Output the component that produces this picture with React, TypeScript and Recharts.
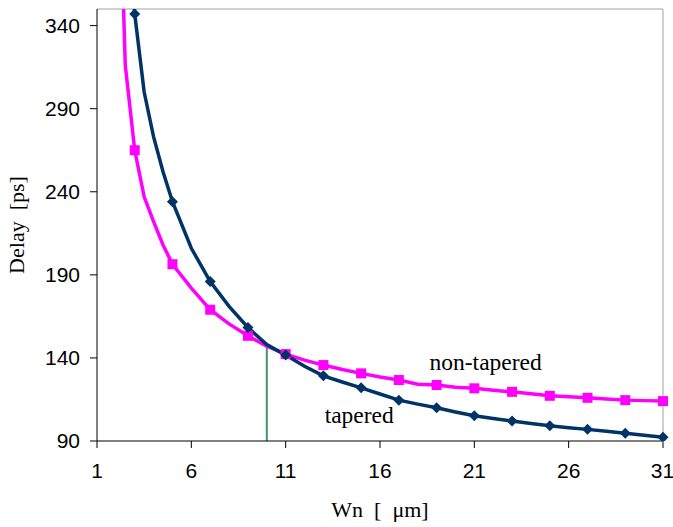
import React from 'react';
import { LineChart, Line, XAxis, YAxis, ReferenceLine, ReferenceDot } from 'recharts';

// Wn [um] sample points (denser in the steep part)
const wn = [2, 2.5, 3, 3.5, 4, 4.5, 5, 6, 7, 8, 9, 10, 11, 12, 13, 14, 15, 16, 17, 18, 19, 20, 21, 22, 23, 24, 25, 26, 27, 28, 29, 30, 31];
const tapered = [null, 430, 347, 300, 273, 252, 234, 206, 186, 171, 158.3, 148, 141.7, 135, 129.2, 125.5, 122, 118.3, 114.6, 112.2, 110, 107.5, 105.2, 103.5, 102, 100.5, 99.2, 98, 97, 95.8, 94.6, 93.4, 92.2];
const nonTapered = [500, 316, 265, 237, 222, 208, 196.4, 182, 169, 160.5, 153.3, 147, 142.3, 138.7, 135.7, 133, 130.7, 128.5, 126.7, 124.2, 123.7, 122.3, 121.7, 120.6, 119.6, 118.4, 117.2, 116.6, 116, 115.3, 114.6, 114.3, 114];

const xTicks = [1, 6, 11, 16, 21, 26, 31];
const yTicks = [90, 140, 190, 240, 290, 340];

const crossWn = 10;
const crossDelay = 147;

const data = wn.map((w, i) => ({ wn: w, tapered: tapered[i], nonTapered: nonTapered[i] }));

const NAVY = '#003366';
const MAGENTA = '#ff00ff';

const isMarked = (w: number) => Number.isInteger(w) && w % 2 === 1;

const Diamond = (props: any) => {
  const { cx, cy, payload, index } = props;
  if (!isMarked(payload.wn) || cy == null) return <g key={index} />;
  const s = 5.5;
  return (
    <path
      key={index}
      d={`M${cx},${cy - s} L${cx + s},${cy} L${cx},${cy + s} L${cx - s},${cy} Z`}
      fill={NAVY}
    />
  );
};

const Square = (props: any) => {
  const { cx, cy, payload, index } = props;
  if (!isMarked(payload.wn) || cy == null) return <g key={index} />;
  const s = 5;
  return <rect key={index} x={cx - s} y={cy - s} width={2 * s} height={2 * s} fill={MAGENTA} />;
};

const tickFont = { fill: '#000', fontSize: 21, fontFamily: '"Liberation Sans", Arial, sans-serif' };
const serif = '"Liberation Serif", "Times New Roman", serif';

export default function App() {
  return (
    <div style={{ position: 'absolute', left: 0, top: 0, background: '#fff' }}>
      <LineChart
        width={673}
        height={527}
        data={data}
        margin={{ top: 9, right: 10, left: 0, bottom: 6 }}
      >
        <XAxis
          dataKey="wn"
          type="number"
          domain={[1, 31]}
          ticks={xTicks}
          height={80}
          stroke="#000"
          tickSize={7}
          tickMargin={15}
          tick={tickFont}
          label={{ value: 'Wn\u00a0\u00a0[\u00a0\u00a0μm]', position: 'insideBottom', offset: 4, fill: '#000', fontSize: 22, fontFamily: serif }}
        />
        <YAxis
          type="number"
          domain={[90, 350]}
          allowDataOverflow
          ticks={yTicks}
          width={97}
          stroke="#000"
          tickSize={7}
          tickMargin={10}
          tick={tickFont}
          label={{ value: 'Delay\u00a0\u00a0[ps]', angle: -90, position: 'center', dx: -32, fill: '#000', fontSize: 22, fontFamily: serif }}
        />
        <ReferenceLine y={350} stroke="#c0c0c0" strokeWidth={1.5} />
        <ReferenceLine x={31} stroke="#c0c0c0" strokeWidth={1.5} />
        <ReferenceLine
          segment={[{ x: crossWn, y: 90 }, { x: crossWn, y: crossDelay }]}
          stroke="#3a9a68"
          strokeWidth={2}
        />
        <Line
          dataKey="nonTapered"
          type="linear"
          stroke={MAGENTA}
          strokeWidth={3.5}
          dot={Square}
          activeDot={false}
          isAnimationActive={false}
        />
        <Line
          dataKey="tapered"
          type="linear"
          stroke={NAVY}
          strokeWidth={3.5}
          dot={Diamond}
          activeDot={false}
          isAnimationActive={false}
        />
        <ReferenceDot
          x={21.6}
          y={137.5}
          r={0}
          ifOverflow="visible"
          label={{ value: 'non-tapered', position: 'center', fill: '#000', fontSize: 23.5, fontFamily: serif }}
        />
        <ReferenceDot
          x={14.9}
          y={105.6}
          r={0}
          ifOverflow="visible"
          label={{ value: 'tapered', position: 'center', fill: '#000', fontSize: 23.5, fontFamily: serif }}
        />
      </LineChart>
    </div>
  );
}
